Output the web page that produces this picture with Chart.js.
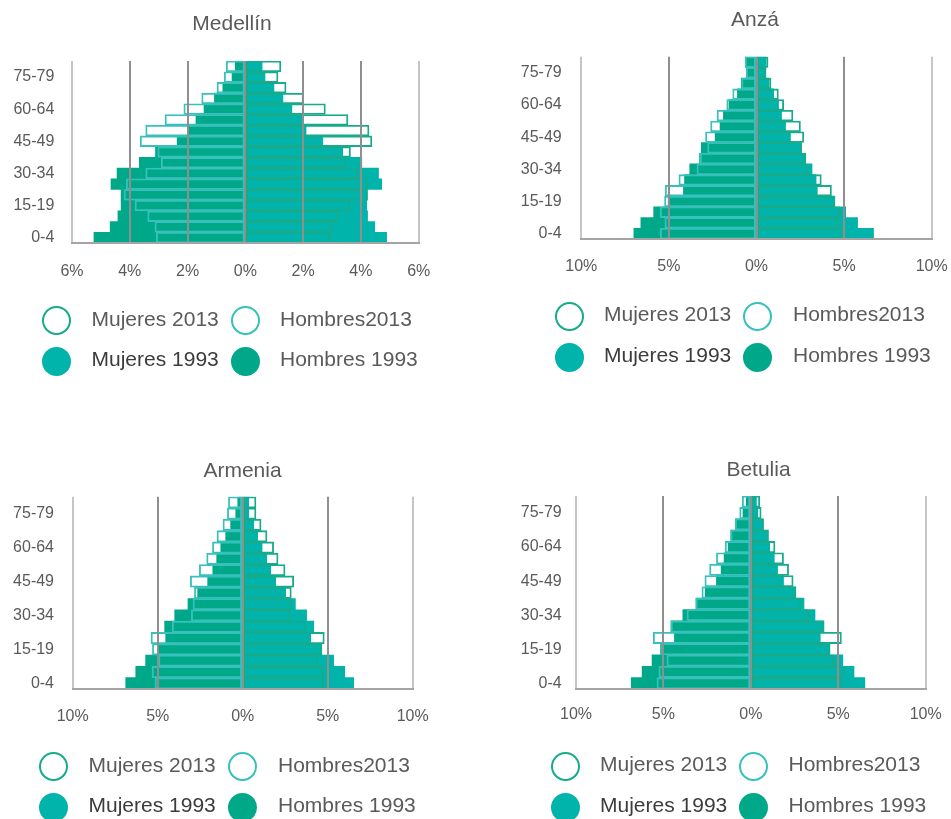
<!DOCTYPE html>
<html lang="es">
<head>
<meta charset="utf-8">
<title>Pirámides poblacionales 1993 y 2013</title>
<script src="https://cdn.jsdelivr.net/npm/chart.js@4/dist/chart.umd.min.js"></script>
<style>
  html, body { margin: 0; padding: 0; background: #ffffff; }
  body { width: 951px; height: 819px; position: relative; overflow: hidden;
         font-family: "Liberation Sans", Arial, sans-serif; }
  .panel { position: absolute; }
  .legend { position: absolute; left: 0; top: 0; width: 951px; height: 819px; pointer-events: none; }
  .dot { position: absolute; width: 29px; height: 29px; border-radius: 50%; box-sizing: border-box; }
  .lbl { position: absolute; font-size: 21px; line-height: 24px; color: #5a5a5a; white-space: nowrap; }
  .lbl.dark { color: #3c3c3c; }
</style>
</head>
<body>
<div id="root"></div>
<div class="legend" id="legend"></div>
<script>
// Age groups, youngest first (drawn from the bottom up)
const ageGroups = ['0-4','5-9','10-14','15-19','20-24','25-29','30-34','35-39','40-44',
                   '45-49','50-54','55-59','60-64','65-69','70-74','75-79','80+'];

// Share of total population (%) per age group
const medellinHombres1993 = [5.24,4.68,4.41,4.30,4.30,4.65,4.44,3.67,3.11,2.36,1.96,1.71,1.43,1.07,0.78,0.46,0.35];
const medellinHombres2013 = [3.08,3.13,3.38,3.82,4.20,4.12,3.45,2.91,3.03,3.64,3.45,2.78,2.13,1.51,0.98,0.73,0.66];
const medellinMujeres1993 = [4.89,4.48,4.23,4.20,4.23,4.72,4.61,4.03,3.37,2.68,2.10,1.96,1.61,1.30,0.99,0.68,0.58];
const medellinMujeres2013 = [2.92,3.01,3.22,3.63,4.20,4.23,3.91,3.46,3.64,4.38,4.28,3.55,2.77,2.01,1.41,1.13,1.23];

const anzaHombres1993 = [7.00,6.60,5.87,5.04,4.17,4.11,3.81,3.25,3.15,2.36,2.08,1.89,1.57,1.09,0.87,0.58,0.64];
const anzaHombres2013 = [5.49,5.23,5.49,5.25,5.21,4.43,3.40,3.21,2.79,2.91,2.62,2.25,1.70,1.36,0.85,0.58,0.64];
const anzaMujeres1993 = [6.68,5.77,5.09,4.47,3.47,3.40,3.17,2.81,2.57,1.94,1.66,1.43,1.26,0.98,0.72,0.49,0.55];
const anzaMujeres2013 = [4.92,4.64,4.75,4.47,4.28,3.70,2.87,2.81,2.57,2.70,2.51,2.08,1.55,1.25,0.83,0.55,0.66];

const armeniaHombres1993 = [6.88,6.29,5.71,4.98,4.53,4.59,4.00,3.22,2.65,2.06,1.76,1.53,1.29,1.00,0.71,0.41,0.29];
const armeniaHombres2013 = [5.16,5.33,4.95,5.31,5.39,4.14,3.02,2.92,2.84,3.08,2.55,2.12,1.78,1.51,1.16,0.90,0.84];
const armeniaMujeres1993 = [6.53,6.00,5.35,4.65,4.00,4.18,3.76,3.10,2.53,1.94,1.65,1.41,1.14,0.88,0.65,0.35,0.35];
const armeniaMujeres2013 = [4.73,4.78,4.43,4.65,4.80,3.67,2.78,2.84,2.86,3.00,2.49,2.08,1.82,1.43,1.08,0.78,0.78];

const betuliaHombres1993 = [6.84,6.22,5.65,5.14,4.37,4.57,3.89,3.14,2.61,1.97,1.70,1.53,1.30,1.15,0.89,0.45,0.26];
const betuliaHombres2013 = [5.37,5.26,4.80,5.18,5.58,4.56,3.65,3.14,2.80,2.63,2.36,1.97,1.47,1.15,0.89,0.64,0.49];
const betuliaMujeres1993 = [6.52,5.90,5.26,4.52,3.97,4.18,3.67,3.04,2.57,1.87,1.53,1.34,1.08,1.00,0.72,0.40,0.32];
const betuliaMujeres2013 = [5.18,5.31,4.74,4.52,5.18,4.14,3.31,2.85,2.57,2.42,2.16,1.87,1.38,1.00,0.72,0.59,0.51];

// Axis limits (%) and tick step per municipality
const medellinAxis = [6, 2];
const smallTownAxis = [10, 5];

// Legend entries
const legendRows = [
  ['Mujeres 2013', 'Hombres2013'],
  ['Mujeres 1993', 'Hombres 1993']
];

const COLORS = {
  hombresFill: '#00a88a',
  mujeresFill: '#00b4ac',
  hombresLine: '#38c1ba',
  mujeresLine: '#17ab8b',
  grid: '#8f8f8f',
  gridEdge: '#c6c6c6',
  axis: '#a4a4a4',
  text: '#5a5a5a'
};

const FONT = '"Liberation Sans", Arial, sans-serif';

const panels = [
  { id: 'medellin', title: 'Medellín', h93: medellinHombres1993, h13: medellinHombres2013,
    m93: medellinMujeres1993, m13: medellinMujeres2013, axis: medellinAxis,
    left: 0, top: 0, width: 464, height: 283, yW: 72, rightW: 45.3,
    titlePT: 12, titlePB: 23.8, yPad: 17.7, xPad: 18.7,
    legend: { x1: 56, x2: 245, t1: 91.5, t2: 280, y1: 320.5, y2: 361 } },
  { id: 'anza', title: 'Anzá', h93: anzaHombres1993, h13: anzaHombres2013,
    m93: anzaMujeres1993, m13: anzaMujeres2013, axis: smallTownAxis,
    left: 505, top: 0, width: 500, height: 279, yW: 76.3, rightW: 73.3,
    titlePT: 7.8, titlePB: 23.7, yPad: 19.6, xPad: 18,
    legend: { x1: 569, x2: 757, t1: 604, t2: 793, y1: 316, y2: 357 } },
  { id: 'armenia', title: 'Armenia', h93: armeniaHombres1993, h13: armeniaHombres2013,
    m93: armeniaMujeres1993, m13: armeniaMujeres2013, axis: smallTownAxis,
    left: 0, top: 445, width: 485, height: 284, yW: 72.7, rightW: 72.3,
    titlePT: 13.8, titlePB: 12.7, yPad: 18.7, xPad: 18.4,
    legend: { x1: 53.5, x2: 242, t1: 88.5, t2: 278, y1: 766.5, y2: 807 } },
  { id: 'betulia', title: 'Betulia', h93: betuliaHombres1993, h13: betuliaHombres2013,
    m93: betuliaMujeres1993, m13: betuliaMujeres2013, axis: smallTownAxis,
    left: 505, top: 445, width: 507, height: 284, yW: 71, rightW: 86.3,
    titlePT: 12.3, titlePB: 13.5, yPad: 14.3, xPad: 16.4,
    legend: { x1: 565, x2: 753.5, t1: 600, t2: 788.5, y1: 766, y2: 807 } }
];

const negate = arr => arr.map(v => -v);

const root = document.getElementById('root');
const legendEl = document.getElementById('legend');

function addDot(cx, cy, fill, color) {
  const d = document.createElement('div');
  d.className = 'dot';
  d.style.left = (cx - 14.5) + 'px';
  d.style.top = (cy - 14.5) + 'px';
  if (fill) {
    d.style.background = color;
  } else {
    d.style.border = '2px solid ' + color;
  }
  legendEl.appendChild(d);
}

function addLabel(x, cy, text, dark) {
  const s = document.createElement('div');
  s.className = 'lbl' + (dark ? ' dark' : '');
  s.style.left = x + 'px';
  s.style.top = (cy - 14) + 'px';
  s.textContent = text;
  legendEl.appendChild(s);
}

panels.forEach(p => {
  const wrap = document.createElement('div');
  wrap.className = 'panel';
  wrap.style.left = p.left + 'px';
  wrap.style.top = p.top + 'px';
  const canvas = document.createElement('canvas');
  canvas.width = p.width;
  canvas.height = p.height;
  canvas.style.width = p.width + 'px';
  canvas.style.height = p.height + 'px';
  wrap.appendChild(canvas);
  root.appendChild(wrap);

  const [lim, step] = p.axis;
  const barBase = { grouped: false, barPercentage: 1, categoryPercentage: 1 };

  new Chart(canvas.getContext('2d'), {
    type: 'bar',
    data: {
      labels: ageGroups,
      datasets: [
        Object.assign({ label: 'Hombres 1993', data: negate(p.h93),
          backgroundColor: COLORS.hombresFill, borderWidth: 0, order: 3 }, barBase),
        Object.assign({ label: 'Mujeres 1993', data: p.m93.slice(),
          backgroundColor: COLORS.mujeresFill, borderWidth: 0, order: 3 }, barBase),
        Object.assign({ label: 'Hombres2013', data: negate(p.h13),
          backgroundColor: 'rgba(255,255,255,0)', borderColor: COLORS.hombresLine,
          borderWidth: 1.2, borderSkipped: false, order: 1 }, barBase),
        Object.assign({ label: 'Mujeres 2013', data: p.m13.slice(),
          backgroundColor: 'rgba(255,255,255,0)', borderColor: COLORS.mujeresLine,
          borderWidth: 1.2, borderSkipped: false, order: 1 }, barBase)
      ]
    },
    options: {
      indexAxis: 'y',
      responsive: false,
      animation: false,
      devicePixelRatio: 1,
      layout: { padding: 0 },
      plugins: {
        legend: { display: false },
        tooltip: { enabled: false },
        title: {
          display: true,
          text: p.title,
          color: COLORS.text,
          font: { family: FONT, size: 21, weight: 'normal', lineHeight: 1.2 },
          padding: { top: p.titlePT, bottom: p.titlePB }
        }
      },
      scales: {
        x: {
          type: 'linear',
          min: -lim,
          max: lim,
          afterFit: s => { s.height = 40; },
          ticks: {
            stepSize: step,
            padding: p.xPad,
            color: COLORS.text,
            font: { family: FONT, size: 16 },
            maxRotation: 0,
            callback: v => Math.abs(v) + '%'
          },
          grid: {
            z: 1,
            drawTicks: false,
            lineWidth: 2,
            color: ctx => (ctx.tick && Math.abs(ctx.tick.value) === lim) ? COLORS.gridEdge : COLORS.grid
          },
          border: { display: true, color: COLORS.axis, width: 2, z: 1 }
        },
        y: {
          type: 'category',
          reverse: true,
          afterFit: s => { s.width = p.yW; },
          grid: { display: false, drawTicks: false },
          border: { display: false },
          ticks: {
            autoSkip: false,
            padding: p.yPad,
            color: COLORS.text,
            font: { family: FONT, size: 16 },
            callback: (v, i) => (i % 3 === 0 ? ageGroups[i] : '')
          }
        },
        yRight: {
          axis: 'y',
          type: 'linear',
          position: 'right',
          display: true,
          afterFit: s => { s.width = p.rightW; },
          grid: { display: false, drawTicks: false },
          border: { display: false },
          ticks: { display: false }
        }
      }
    }
  });

  // Legend: 2013 outlines on the first row, 1993 fills on the second
  const L = p.legend;
  addDot(L.x1, L.y1, false, COLORS.mujeresLine);
  addLabel(L.t1, L.y1, legendRows[0][0], false);
  addDot(L.x2, L.y1, false, COLORS.hombresLine);
  addLabel(L.t2, L.y1, legendRows[0][1], false);
  addDot(L.x1, L.y2, true, COLORS.mujeresFill);
  addLabel(L.t1, L.y2, legendRows[1][0], true);
  addDot(L.x2, L.y2, true, COLORS.hombresFill);
  addLabel(L.t2, L.y2, legendRows[1][1], false);
});
</script>
</body>
</html>
